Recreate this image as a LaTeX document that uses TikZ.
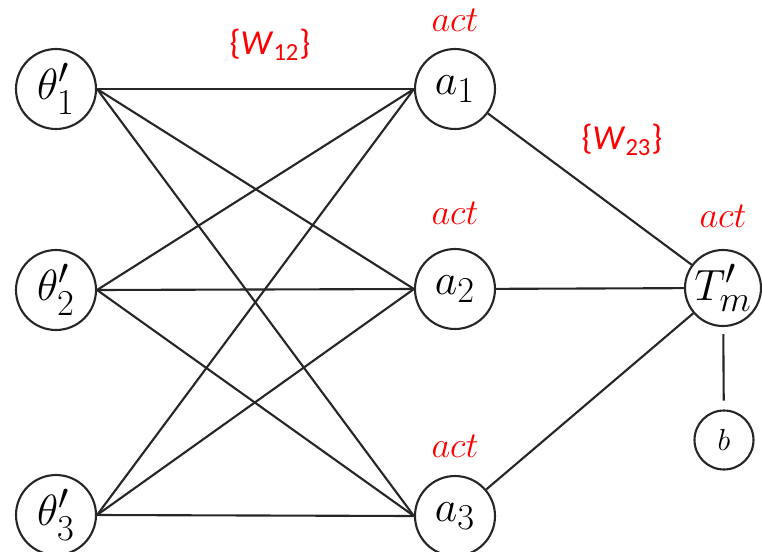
\documentclass[tikz,border=0pt]{standalone}
\usepackage{amsmath,amssymb}
\usepackage{fontspec}
\newfontfamily\labfont{Carlito}
\usepackage{tikz}
\usetikzlibrary{positioning,calc}
\tikzset{
  neuron/.style={draw=black!85, circle, line width=1.2pt, minimum size=1.6cm, inner sep=0pt, font=\fontsize{28}{32}\selectfont},
  biasnode/.style={draw=black!85, circle, line width=1.2pt, minimum size=1.18cm, inner sep=0pt, font=\fontsize{19}{22}\selectfont},
  actlabel/.style={text=red, font=\fontsize{22}{26}\selectfont},
  wlabel/.style={text=red, font=\labfont\fontsize{20}{24}\selectfont},
  wire/.style={draw=black!85, line width=1.2pt},
}

\begin{document}
\begin{tikzpicture}[x=0.02cm, y=-0.02cm]
  \useasboundingbox (0,0) rectangle (762,552);
  % inputs
  \node[neuron] (t1) at (56,89) {$\theta'_1$};
  \node[neuron] (t2) at (56,290) {$\theta'_2$};
  \node[neuron] (t3) at (56,515) {$\theta'_3$};
  % hidden layer
  \node[neuron] (a1) at (455,89) {$a_1$};
  \node[neuron] (a2) at (455,289) {$a_2$};
  \node[neuron] (a3) at (455,516) {$a_3$};
  % output and bias
  \node[neuron, minimum size=1.52cm] (T) at (723,288) {$T'_m$};
  \node[biasnode] (b) at (724,440) {$b$};
  % labels
  \node[actlabel] (act1) at (455,20) {$act$};
  \node[actlabel] (act2) at (455,213) {$act$};
  \node[actlabel] (act3) at (455,446) {$act$};
  \node[actlabel] (act4) at (723,216) {$act$};
  \node[wlabel] (w12) at (270,45) {\{\textit{W}\textsubscript{12}\}};
  \node[wlabel] (w23) at (622,140) {\{\textit{W}\textsubscript{23}\}};
  % input -> hidden
  \foreach \i in {1,2,3}
    \foreach \j in {1,2,3}
      \draw[wire] (t\i.east) -- (a\j.west);
  % hidden -> output
  \draw[wire] (a1) -- (T);
  \draw[wire] (a2) -- (T);
  \draw[wire] (a3) -- (T);
  \draw[wire, shorten <=4pt, shorten >=5pt] (T) -- (b);
\end{tikzpicture}
\end{document}
